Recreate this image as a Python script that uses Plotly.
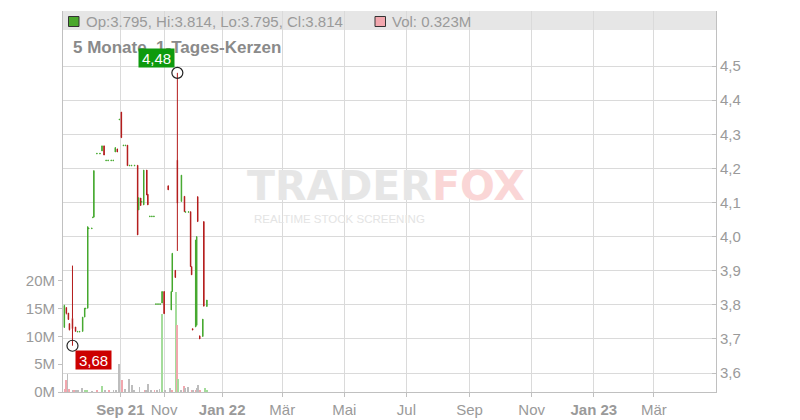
import pandas as pd
import plotly.graph_objects as go

# ---------------- data ----------------
dates = ["2021-06-16", "2021-06-18", "2021-06-22", "2021-06-23", "2021-06-28", "2021-07-01",
         "2021-07-05", "2021-07-07", "2021-07-12", "2021-07-14", "2021-07-15", "2021-07-19",
         "2021-07-20", "2021-07-23", "2021-07-26", "2021-07-27", "2021-07-30", "2021-08-04",
         "2021-08-06", "2021-08-10", "2021-08-12", "2021-08-16", "2021-08-19", "2021-08-23",
         "2021-08-25", "2021-08-27", "2021-08-31", "2021-09-02", "2021-09-06", "2021-09-08",
         "2021-09-10", "2021-09-14", "2021-09-16", "2021-09-21", "2021-09-24", "2021-09-27",
         "2021-09-29", "2021-09-30", "2021-10-04", "2021-10-07", "2021-10-08", "2021-10-12",
         "2021-10-14", "2021-10-18", "2021-10-20", "2021-10-22", "2021-10-26", "2021-10-28",
         "2021-11-01", "2021-11-05", "2021-11-10", "2021-11-11", "2021-11-16", "2021-11-18",
         "2021-11-22", "2021-11-25", "2021-11-26", "2021-11-29", "2021-12-01", "2021-12-02",
         "2021-12-03", "2021-12-06", "2021-12-07", "2021-12-08", "2021-12-10", "2021-12-13",
         "2021-12-14", "2021-12-17"]
opens = [3.735, 3.792, 3.776, 3.745, 3.760, 3.735, 3.720, 3.720, 3.722, 3.764, 3.788, 3.790,
         4.023, 4.023, 4.055, 4.057, 4.242, 4.242, 4.251, 4.266, 4.222, 4.222, 4.222, 4.222,
         4.248, 4.257, 4.342, 4.365, 4.266, 4.266, 4.268, 4.207, 4.207, 4.207, 4.209, 4.078,
         4.113, 4.101, 4.093, 4.195, 4.124, 4.058, 4.058, 4.058, 3.801, 3.801, 3.801, 3.805,
         3.839, 4.149, 3.785, 3.839, 3.901, 4.224, 4.103, 4.118, 4.071, 4.071, 4.073, 3.912,
         3.730, 3.735, 3.740, 4.117, 3.709, 3.707, 4.044, 3.795]
highs = [3.800, 3.792, 3.776, 3.745, 3.915, 3.735, 3.722, 3.722, 3.764, 3.790, 3.790, 4.029,
         4.025, 4.025, 4.057, 4.195, 4.244, 4.244, 4.266, 4.266, 4.224, 4.224, 4.224, 4.224,
         4.261, 4.257, 4.344, 4.365, 4.268, 4.268, 4.268, 4.209, 4.209, 4.209, 4.209, 4.114,
         4.113, 4.103, 4.195, 4.195, 4.124, 4.060, 4.060, 4.060, 3.803, 3.803, 3.803, 3.839,
         3.839, 4.149, 3.839, 3.951, 3.901, 4.480, 4.180, 4.118, 4.073, 4.073, 4.073, 3.912,
         3.730, 3.990, 4.000, 4.117, 3.709, 3.758, 4.044, 3.814]
lows = [3.732, 3.772, 3.756, 3.725, 3.680, 3.722, 3.720, 3.720, 3.722, 3.764, 3.788, 3.790,
        4.023, 4.023, 4.055, 4.057, 4.242, 4.242, 4.251, 4.239, 4.222, 4.222, 4.222, 4.222,
        4.248, 4.248, 4.342, 4.290, 4.266, 4.266, 4.208, 4.207, 4.207, 4.207, 4.005, 4.078,
        4.091, 4.101, 4.093, 4.122, 4.093, 4.058, 4.058, 4.058, 3.801, 3.801, 3.801, 3.805,
        3.774, 4.137, 3.785, 3.839, 3.880, 3.958, 4.103, 4.073, 4.071, 4.071, 3.912, 3.888,
        3.726, 3.735, 3.740, 4.044, 3.700, 3.707, 3.796, 3.795]
closes = [3.798, 3.775, 3.757, 3.727, 3.730, 3.722, 3.722, 3.722, 3.764, 3.790, 3.790, 4.029,
          4.025, 4.025, 4.057, 4.192, 4.244, 4.244, 4.266, 4.239, 4.224, 4.224, 4.224, 4.224,
          4.261, 4.248, 4.344, 4.290, 4.268, 4.268, 4.208, 4.209, 4.209, 4.209, 4.005, 4.114,
          4.091, 4.103, 4.195, 4.122, 4.093, 4.060, 4.060, 4.060, 3.803, 3.803, 3.803, 3.839,
          3.774, 4.137, 3.839, 3.951, 3.880, 4.098, 4.180, 4.073, 4.073, 4.073, 3.912, 3.888,
          3.726, 3.990, 4.000, 4.044, 3.700, 3.758, 3.796, 3.814]

vol_dates = ["2021-06-17", "2021-06-18", "2021-06-21", "2021-06-23", "2021-06-28", "2021-06-30",
             "2021-07-02", "2021-07-06", "2021-07-09", "2021-07-14", "2021-07-16", "2021-07-23",
             "2021-07-30", "2021-08-06", "2021-08-11", "2021-08-17", "2021-08-23", "2021-08-26",
             "2021-08-31", "2021-09-03", "2021-09-08", "2021-09-14", "2021-09-17", "2021-09-21",
             "2021-09-27", "2021-10-04", "2021-10-06", "2021-10-08", "2021-10-13", "2021-10-18",
             "2021-10-21", "2021-10-25", "2021-10-28", "2021-11-02", "2021-11-08", "2021-11-09",
             "2021-11-11", "2021-11-17", "2021-11-18", "2021-11-19", "2021-11-22", "2021-11-25",
             "2021-11-26", "2021-11-29", "2021-12-02", "2021-12-03", "2021-12-06", "2021-12-07",
             "2021-12-08", "2021-12-10", "2021-12-15", "2021-12-17"]
vol_millions = [0.6, 2.1, 3.3, 0.5, 0.3, 0.2, 0.2, 0.2, 0.8, 0.25, 0.2, 0.15, 0.2, 1.0, 0.2,
                0.2, 0.3, 0.3, 5.1, 2.2, 0.6, 2.4, 1.2, 0.4, 0.9, 0.2, 0.2, 1.5, 0.3, 0.2,
                0.3, 0.5, 14.0, 0.3, 0.2, 0.8, 0.2, 18.0, 12.0, 2.4, 0.3, 1.0, 0.7, 0.9, 0.3,
                0.4, 0.35, 0.7, 1.3, 0.3, 0.7, 0.323]
vol_kind = ["down", "down", "flat", "down", "flat", "down", "flat", "flat", "flat", "up",
            "up", "flat", "down", "up", "flat", "down", "flat", "flat", "flat", "down",
            "flat", "flat", "flat", "flat", "flat", "down", "flat", "flat", "flat", "down",
            "flat", "flat", "up", "flat", "up", "flat", "down", "up", "down", "up",
            "flat", "down", "flat", "flat", "down", "flat", "down", "flat", "flat", "down",
            "up", "up"]

x_tick_dates = ["2021-09-01", "2021-11-01", "2022-01-01", "2022-03-01", "2022-05-01", "2022-07-01",
                "2022-09-01", "2022-11-01", "2023-01-01", "2023-03-01"]
x_tick_labels = ["<b>Sep 21</b>", "Nov", "<b>Jan 22</b>", "Mär", "Mai", "Jul", "Sep", "Nov",
                 "<b>Jan 23</b>", "Mär"]
price_ticks = [3.6, 3.7, 3.8, 3.9, 4.0, 4.1, 4.2, 4.3, 4.4, 4.5]
vol_ticks_m = [0, 5, 10, 15, 20]
vol_tick_labels = ["0M", "5M", "10M", "15M", "20M"]

X_RANGE = ["2021-06-14 16:30", "2023-05-01"]
BREAK_END = "2021-11-14"
PRICE_RANGE = [3.5444, 4.6613]
VOL_RANGE_M = 68.5

# ---------------- style ----------------
GREEN = "#45a82e"
RED = "#b31a1a"
VOL_COLORS = {"up": "#a4dc9b", "down": "#f2a7ae", "flat": "#bdbdbd"}
GRID = "#dadada"
AXIS = "#c0c0c0"
TXT = "#9a9a9a"
FONT = "Liberation Sans, Arial, sans-serif"

weekend_breaks = [d.strftime("%Y-%m-%d") for d in pd.date_range("2021-06-12", BREAK_END)
                  if d.weekday() >= 5]

fig = go.Figure()
fig.add_trace(go.Bar(
    x=vol_dates, y=[v * 1e6 for v in vol_millions], yaxis="y",
    marker=dict(color=[VOL_COLORS[k] for k in vol_kind], line=dict(width=0)),
    width=[1.2 * 86400000] * len(vol_dates), hoverinfo="skip"))
fig.add_trace(go.Candlestick(
    x=dates, open=opens, high=highs, low=lows, close=closes, yaxis="y2",
    increasing=dict(line=dict(color=GREEN, width=1), fillcolor=GREEN),
    decreasing=dict(line=dict(color=RED, width=1), fillcolor=RED),
    whiskerwidth=0))

imax = highs.index(max(highs))
imin = lows.index(min(lows))
fig.add_trace(go.Scatter(
    x=[dates[imax], dates[imin]], y=[highs[imax], lows[imin]], yaxis="y2", mode="markers",
    marker=dict(symbol="circle-open", size=11, color="#222222", line=dict(width=1.2)),
    hoverinfo="skip"))

# plot area in pixels (for paper-anchored decorations)
L, R, T, B = 63, 716, 11, 392
W, H = R - L, B - T
px = lambda x: (x - L) / W
py = lambda y: (B - y) / H

shapes = [
    dict(type="rect", xref="paper", yref="paper", x0=0, x1=1, y0=py(30), y1=1,
         fillcolor="#e6e6e6", line=dict(width=0), layer="below"),
    dict(type="rect", xref="paper", yref="paper", x0=px(68.5), x1=px(79), y0=py(26.5), y1=py(16.5),
         fillcolor="#4aa82c", line=dict(color="#333333", width=1)),
    dict(type="rect", xref="paper", yref="paper", x0=px(375), x1=px(385.5), y0=py(26.5), y1=py(16.5),
         fillcolor="#f2a7ae", line=dict(color="#333333", width=1)),
]

last = len(dates) - 1
hdr = f"Op:{opens[last]:.3f}, Hi:{highs[last]:.3f}, Lo:{lows[last]:.3f}, Cl:{closes[last]:.3f}"
fmt = lambda v: f"{v:.2f}".replace(".", ",")

annotations = [
    dict(xref="paper", yref="paper", x=px(84), y=py(21.5), xanchor="left", yanchor="middle",
         text=hdr, showarrow=False, font=dict(family=FONT, size=15, color=TXT)),
    dict(xref="paper", yref="paper", x=px(390), y=py(21.5), xanchor="left", yanchor="middle",
         text=f"Vol: {vol_millions[-1]:.3f}M", showarrow=False, font=dict(family=FONT, size=15, color=TXT)),
    dict(xref="paper", yref="paper", x=px(71), y=py(47), xanchor="left", yanchor="middle",
         text="<b>5 Monate, 1-Tages-Kerzen</b>", showarrow=False,
         font=dict(family=FONT, size=17, color="#8a8a8a")),
    dict(xref="paper", yref="paper", x=px(386), y=py(186), xanchor="center", yanchor="middle",
         text="<b><span style='color:#e6e6e6'>TRADER</span><span style='color:#fad6d6'>FOX</span></b>",
         showarrow=False, font=dict(family="DejaVu Sans", size=41, color="#e6e6e6")),
    dict(xref="paper", yref="paper", x=px(339), y=py(219), xanchor="center", yanchor="middle",
         text="REALTIME STOCK SCREENING", showarrow=False,
         font=dict(family=FONT, size=11.5, color="#e4e4e4")),
    dict(xref="x", yref="y2", x=dates[imax], y=highs[imax], xanchor="right", yanchor="bottom",
         xshift=-2.5, yshift=5, text=fmt(highs[imax]), showarrow=False, bgcolor="#0e9a0e",
         borderpad=0, width=35, height=18, font=dict(family=FONT, size=15, color="white")),
    dict(xref="x", yref="y2", x=dates[imin], y=lows[imin], xanchor="left", yanchor="top",
         xshift=2.5, yshift=-4.5, text=fmt(lows[imin]), showarrow=False, bgcolor="#cc0000",
         borderpad=0, width=35, height=18, font=dict(family=FONT, size=15, color="white")),
]

fig.update_layout(
    width=800, height=420, margin=dict(l=L, r=800 - R, t=T, b=420 - B, autoexpand=False),
    paper_bgcolor="white", plot_bgcolor="white", showlegend=False,
    separators=",.", bargap=0,
    font=dict(family=FONT, size=15, color=TXT),
    xaxis=dict(type="date", range=X_RANGE, rangebreaks=[dict(values=weekend_breaks)],
               tickvals=x_tick_dates, ticktext=x_tick_labels, showgrid=True, gridcolor=GRID,
               gridwidth=1, ticks="outside", ticklen=4, tickcolor=AXIS, showline=True,
               linecolor=AXIS, zeroline=False, rangeslider=dict(visible=False), automargin=False,
               tickfont=dict(family=FONT, size=15, color=TXT)),
    yaxis=dict(side="left", range=[0, VOL_RANGE_M * 1e6], tickvals=[v * 1e6 for v in vol_ticks_m],
               ticktext=vol_tick_labels, showgrid=False, ticks="outside", ticklen=4,
               tickcolor=AXIS, showline=True, linecolor=AXIS, zeroline=False, automargin=False,
               tickfont=dict(family=FONT, size=15, color=TXT)),
    yaxis2=dict(overlaying="y", side="right", range=PRICE_RANGE, tickvals=price_ticks,
                tickformat=".1f", showgrid=True, gridcolor=GRID, ticks="inside", ticklen=4,
                tickcolor=AXIS, showline=True, linecolor=AXIS, zeroline=False, automargin=False,
                tickfont=dict(family=FONT, size=15, color=TXT)),
    shapes=shapes, annotations=annotations,
)

fig.write_html("out.html", config={"displayModeBar": False},
               post_script="document.body.style.margin='0';")
